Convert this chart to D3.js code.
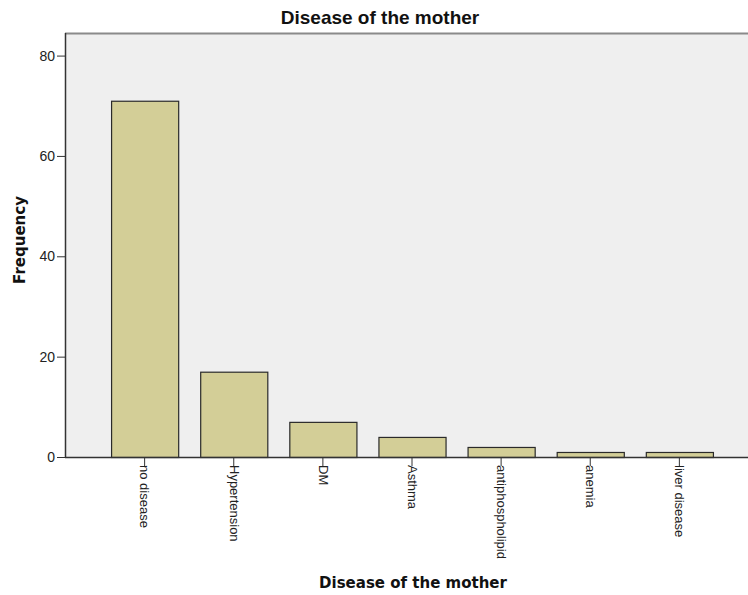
<!DOCTYPE html>
<html><head><meta charset="utf-8">
<script src="https://cdn.jsdelivr.net/npm/d3@7"></script>
<style>body{margin:0;background:#fff}svg{display:block}</style>
</head><body>
<svg id="c" width="748" height="595"></svg>
<script>
const categories = ["no disease","Hypertension","DM","Asthma","antiphospholipid","anemia","liver disease"];
const frequencies = [71,17,7,4,2,1,1];
const yTicks = [0,20,40,60,80];
const chartTitle = "Disease of the mother";
const xTitle = "Disease of the mother";
const yTitle = "Frequency";

const svg = d3.select("#c");
const L = 65, T = 33, B = 457, R = 759;
const x = d3.scaleBand().domain(categories).range([L, R]).paddingInner(0.247).paddingOuter(0.517);
const y = d3.scaleLinear().domain([0, 84.5]).range([B, T]);

svg.append("rect").attr("x", L).attr("y", T).attr("width", 748 - L).attr("height", B - T).attr("fill", "#efefef");
svg.append("line").attr("x1", L).attr("x2", 748).attr("y1", T + 0.5).attr("y2", T + 0.5).attr("stroke", "#8a8a8a").attr("stroke-width", 2);

svg.selectAll("rect.bar").data(frequencies).join("rect").attr("class", "bar")
  .attr("x", (d, i) => x(categories[i]) + 0.5)
  .attr("y", d => y(d) + 0.5)
  .attr("width", x.bandwidth())
  .attr("height", d => B - y(d))
  .attr("fill", "#d3ce97").attr("stroke", "#2a2a2a").attr("stroke-width", 1.2);

const yAxis = svg.append("g").attr("transform", `translate(${L},0)`)
  .call(d3.axisLeft(y).tickValues(yTicks).tickSize(8).tickPadding(2));
yAxis.select(".domain").remove();
yAxis.selectAll("line").attr("stroke", "#333");
yAxis.selectAll("text").attr("font-family", "Liberation Sans, Arial, sans-serif").attr("font-size", 14).attr("fill", "#222");
svg.append("line").attr("x1", L + 0.5).attr("x2", L + 0.5).attr("y1", T).attr("y2", B + 1).attr("stroke", "#333").attr("stroke-width", 1.5);

const xAxis = svg.append("g").attr("transform", `translate(0,${B})`)
  .call(d3.axisBottom(x).tickSize(9).tickPadding(0));
xAxis.select(".domain").remove();
xAxis.selectAll("line").attr("stroke", "#333");
xAxis.selectAll("text")
  .attr("font-family", "Liberation Sans, Arial, sans-serif").attr("font-size", 13).attr("fill", "#222")
  .attr("transform", "rotate(90)").attr("text-anchor", "start").attr("dy", "0.32em").attr("x", 8).attr("y", 0);
svg.append("line").attr("x1", L).attr("x2", 748).attr("y1", B + 0.5).attr("y2", B + 0.5).attr("stroke", "#333").attr("stroke-width", 1.5);

svg.append("text").attr("x", 380).attr("y", 24).attr("text-anchor", "middle")
  .attr("font-family", "Liberation Sans, Arial, sans-serif").attr("font-weight", "bold").attr("font-size", 19).attr("fill", "#111").text(chartTitle);
svg.append("text").attr("x", 413).attr("y", 588).attr("text-anchor", "middle")
  .attr("font-family", "DejaVu Sans, sans-serif").attr("font-weight", "bold").attr("font-size", 15).attr("fill", "#111").text(xTitle);
svg.append("text").attr("transform", "translate(25,240) rotate(-90)").attr("text-anchor", "middle")
  .attr("font-family", "DejaVu Sans, sans-serif").attr("font-weight", "bold").attr("font-size", 15).attr("fill", "#111").text(yTitle);
</script>
</body></html>
